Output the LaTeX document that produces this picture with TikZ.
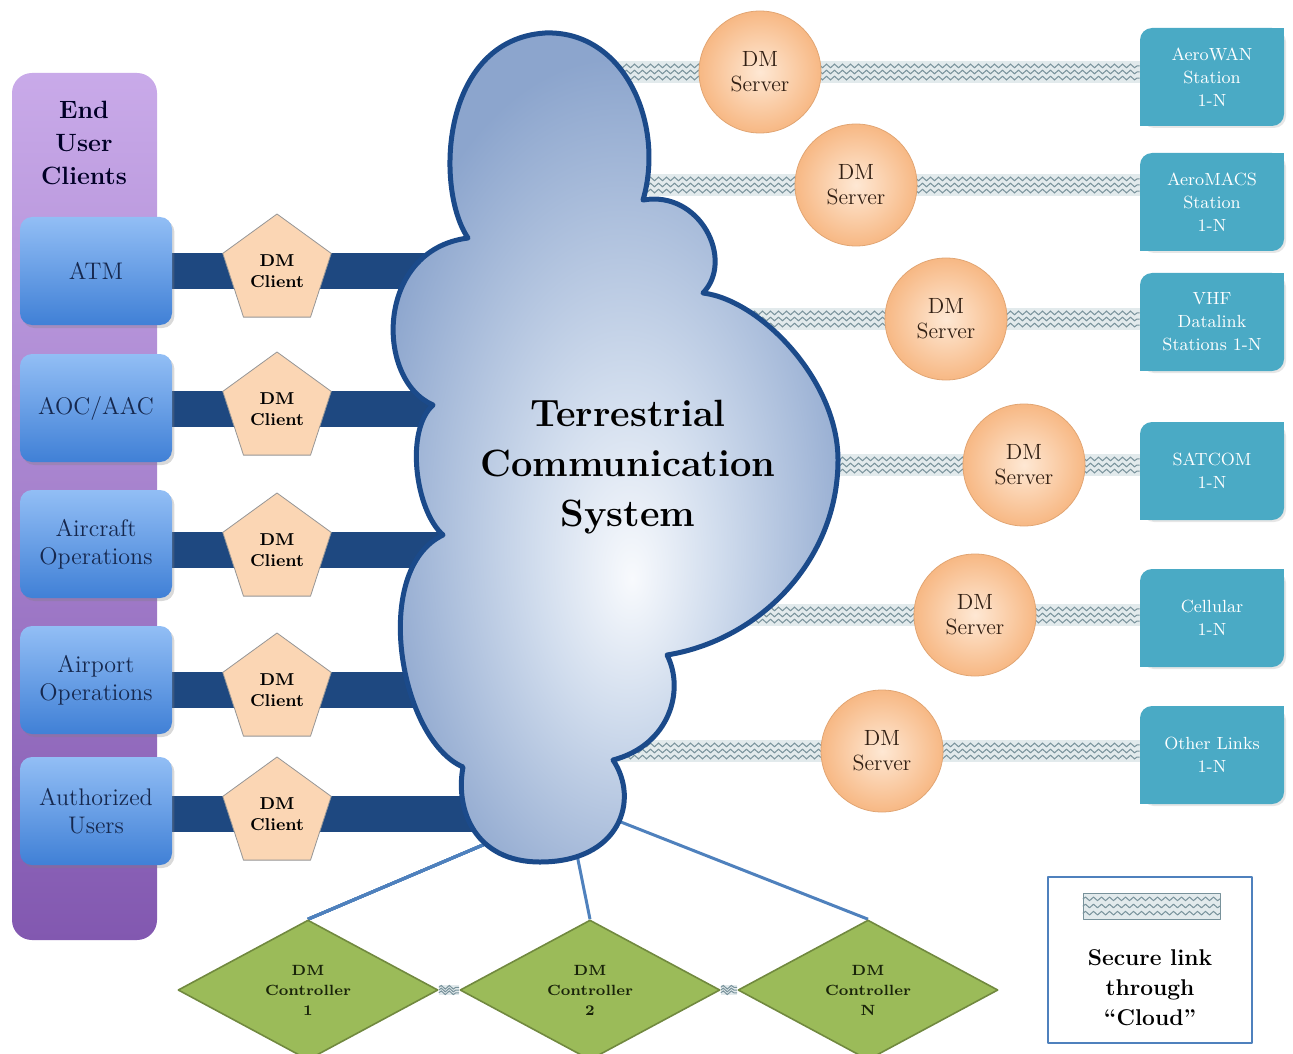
\documentclass[tikz,border=0pt]{standalone}
\usetikzlibrary{shapes.geometric,shadows,calc,decorations.pathmorphing}

\definecolor{pptop}{RGB}{201,170,233}
\definecolor{ppbot}{RGB}{130,88,176}
\definecolor{cltop}{RGB}{146,190,245}
\definecolor{clbot}{RGB}{64,128,214}
\definecolor{cltext}{RGB}{22,40,78}
\definecolor{barblue}{RGB}{30,72,128}
\definecolor{peach}{RGB}{251,214,180}
\definecolor{pentline}{RGB}{150,150,150}
\definecolor{srvin}{RGB}{254,232,212}
\definecolor{srvout}{RGB}{247,184,132}
\definecolor{srvline}{RGB}{225,165,115}
\definecolor{srvtext}{RGB}{50,32,20}
\definecolor{stfill}{RGB}{74,170,197}
\definecolor{cloudin}{RGB}{248,250,253}
\definecolor{cloudmid}{RGB}{208,220,237}
\definecolor{cloudedge}{RGB}{140,165,205}
\definecolor{cloudline}{RGB}{27,74,138}
\definecolor{linkfill}{RGB}{226,234,236}
\definecolor{wavecol}{RGB}{120,146,155}
\definecolor{ctlfill}{RGB}{155,187,89}
\definecolor{ctlborder}{RGB}{113,137,63}
\definecolor{ctltext}{RGB}{25,35,10}
\definecolor{linkblue}{RGB}{79,129,189}

\pgfdeclarelayer{bg}
\pgfsetlayers{bg,main}
\pgfdeclareradialshading{cloudshade}{\pgfpoint{3bp}{-8bp}}{color(0bp)=(cloudin); color(10bp)=(cloudmid); color(27bp)=(cloudedge); color(50bp)=(cloudedge)}

\tikzset{
  panel/.style={rounded corners=10pt, minimum width=72.5pt, minimum height=433.5pt, top color=pptop, bottom color=ppbot},
  paneltitle/.style={align=center, text=black!85!blue, font=\bfseries\fontsize{12.5}{16.5}\selectfont},
  client/.style={rounded corners=6pt, minimum width=76pt, minimum height=54pt, top color=cltop, bottom color=clbot,
    drop shadow={opacity=0.3, shadow xshift=1.2pt, shadow yshift=-1.5pt}, align=center, text=cltext,
    font=\fontsize{12}{14}\selectfont},
  dmclient/.style={regular polygon, regular polygon sides=5, minimum size=57pt, inner sep=0pt, fill=peach,
    draw=pentline, align=center, font=\bfseries\fontsize{8.6}{10.5}\selectfont},
  server/.style={circle, minimum size=61pt, inner sep=0pt, inner color=srvin, outer color=srvout, draw=srvline,
    align=center, text=srvtext, font=\fontsize{11}{12.5}\selectfont},
  station/.style={rounded corners=6pt, minimum width=72pt, minimum height=49pt, fill=stfill, text=white,
    drop shadow={opacity=0.2, shadow xshift=1pt, shadow yshift=-1pt}, align=center,
    font=\fontsize{8.8}{11.5}\selectfont},
  controller/.style={diamond, minimum width=130pt, minimum height=70pt, inner sep=0pt, fill=ctlfill,
    draw=ctlborder, line width=0.8pt, align=center, text=ctltext, font=\bfseries\fontsize{7.4}{10}\selectfont},
  hostbar/.style={line width=18pt, draw=barblue, line cap=butt},
  ctlline/.style={line width=1.5pt, draw=linkblue},
  linkwave/.style={decorate, decoration={snake, amplitude=0.9pt, segment length=4pt}, draw=wavecol, line width=0.5pt},
  cloudshape/.style={shading=cloudshade, draw=cloudline, line width=2.5pt},
  cloudtext/.style={align=center, font=\bfseries\fontsize{19}{25}\selectfont},
  legendbox/.style={minimum width=102pt, minimum height=83pt, draw=linkblue, line width=1.2pt, fill=white},
  legendtext/.style={align=center, font=\bfseries\fontsize{11.4}{15}\selectfont}
}

% secure link band: [half thickness]{start}{end}
\newcommand\securelink[3][11]{%
  \fill[linkfill] ($(#2)+(0,-#1)$) rectangle ($(#3)+(0,#1)$);
  \foreach \f in {-0.55,0,0.55}
    \draw[linkwave] ($(#2)+(0,{\f*#1})$) -- ($(#3)+(0,{\f*#1})$);
}

\begin{document}
\begin{tikzpicture}[x=0.5pt, y=-0.5pt, line join=round, line cap=round]
  \useasboundingbox (0,0) rectangle (1293,1053);

  % end user clients
  \node[panel] (users) at (84.5,506.5) {};
  \node[paneltitle] (title) at (84,143) {End\\User\\Clients};
  \node[client] (atm) at (96,271) {ATM};
  \node[client] (aoc) at (96,408) {AOC/AAC};
  \node[client] (acops) at (96,544) {Aircraft\\Operations};
  \node[client] (apops) at (96,680) {Airport\\Operations};
  \node[client] (auth) at (96,811) {Authorized\\Users};

  \foreach \c/\y in {1/271,2/409,3/550,4/690,5/814}
    \node[dmclient] (dmc\c) at (277,\y) {DM\\Client};

  % cloud
  \coordinate (cloud) at (600,450);
  \shadedraw[cloudshape] (468,238) .. controls (435,190) and (440,40) .. (545,33)
    .. controls (625,30) and (665,125) .. (643,200)
    .. controls (700,190) and (735,260) .. (703,293)
    .. controls (760,300) and (838,380) .. (838,460)
    .. controls (838,560) and (760,640) .. (667,655)
    .. controls (685,690) and (670,745) .. (613,760)
    .. controls (640,800) and (620,862) .. (540,862)
    .. controls (475,862) and (455,810) .. (463,767)
    .. controls (400,740) and (370,570) .. (443,535)
    .. controls (415,510) and (405,430) .. (433,405)
    .. controls (375,380) and (375,250) .. (468,238) -- cycle;
  \node[cloudtext] (tcs) at (628,467) {Terrestrial\\Communication\\System};

  % DM servers and stations
  \foreach \s/\x/\y in {1/760/72,2/856/185,3/946/319,4/1024/465,5/975/615,6/882/751}
    \node[server] (srv\s) at (\x,\y) {DM\\Server};
  \node[station] (st1) at (1212,77) {AeroWAN\\Station\\1-N};
  \node[station] (st2) at (1212,202) {AeroMACS\\Station\\1-N};
  \node[station] (st3) at (1212,322) {VHF\\Datalink\\Stations 1-N};
  \node[station] (st4) at (1212,471) {SATCOM\\1-N};
  \node[station] (st5) at (1212,618) {Cellular\\1-N};
  \node[station] (st6) at (1212,755) {Other Links\\1-N};
  \foreach \s in {1,...,6} {
    \fill[stfill] (st\s.north east) rectangle +(-7pt,-7pt);
    \fill[stfill] (st\s.south west) rectangle +(7pt,7pt);
  }

  % DM controllers
  \node[controller] (ctl1) at (308,990) {DM\\Controller\\1};
  \node[controller] (ctl2) at (590,990) {DM\\Controller\\2};
  \node[controller] (ctlN) at (868,990) {DM\\Controller\\N};
  \coordinate (cb1) at (530,825);
  \coordinate (cb2) at (572,830);
  \coordinate (cb3) at (565,800);

  % legend
  \node[legendbox] (key) at (1150,960) {};
  \coordinate (keyA) at (1083,906);
  \coordinate (keyB) at (1220,906);
  \securelink[13]{keyA}{keyB}
  \draw[wavecol] ($(keyA)+(0,-13)$) rectangle ($(keyB)+(0,13)$);
  \node[legendtext] (keylbl) at (1150,988) {Secure link\\through\\\textquotedblleft Cloud\textquotedblright};

  \begin{pgfonlayer}{bg}
    \foreach \c/\u in {1/atm,2/aoc,3/acops,4/apops,5/auth}
      \draw[hostbar] (\u.east |- dmc\c) -- (cloud |- dmc\c);
    \foreach \s in {1,...,6}
      \securelink{cloud |- srv\s}{st\s.west |- srv\s}
    \draw[ctlline] (cb1) -- (ctl1.north);
    \draw[ctlline] (cb2) -- (ctl2.north);
    \draw[ctlline] (cb3) -- (ctlN.north);
    \securelink[5]{ctl1.east}{ctl2.west}
    \securelink[5]{ctl2.east}{ctlN.west}
  \end{pgfonlayer}
\end{tikzpicture}
\end{document}
